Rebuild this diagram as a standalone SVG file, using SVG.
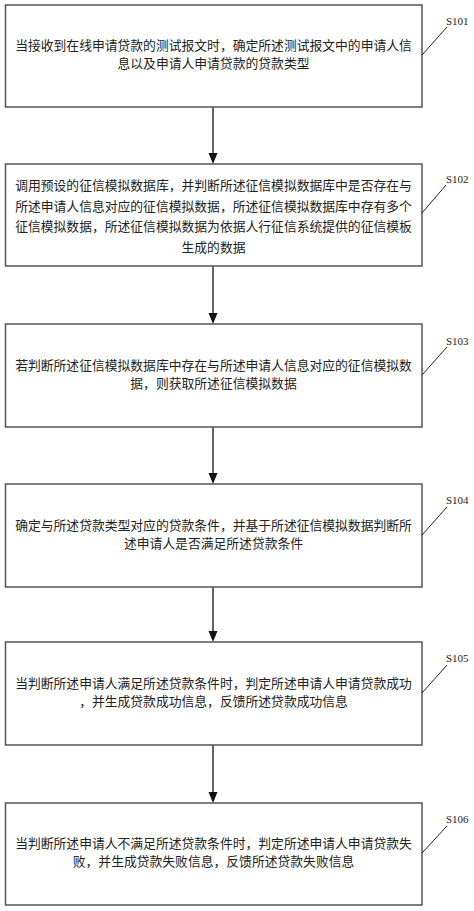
<svg xmlns="http://www.w3.org/2000/svg" width="474" height="911" viewBox="0 0 474 911">
<defs>
<style>
.box{fill:#fff;stroke:#555;stroke-width:1.5}
.t{font-family:"Noto Sans CJK SC","Noto Sans CJK JP",sans-serif;font-size:12.8px;fill:#222;text-anchor:middle}
.lbl{font-family:"Liberation Serif",serif;font-size:11px;fill:#222}
.lead{stroke:#222;stroke-width:1;fill:none}
.arr{stroke:#111;stroke-width:1.3;fill:none}
.head{fill:#111}
</style>
</defs>
<rect width="474" height="911" fill="#fff"/>
<g id="connectors">
<line class="arr" x1="213" y1="107" x2="213" y2="154"/>
<polygon class="head" points="208.5,153 217.5,153 213,164"/>
<line class="arr" x1="213" y1="266" x2="213" y2="314"/>
<polygon class="head" points="208.5,313 217.5,313 213,324"/>
<line class="arr" x1="213" y1="427" x2="213" y2="474"/>
<polygon class="head" points="208.5,473 217.5,473 213,484"/>
<line class="arr" x1="213" y1="587" x2="213" y2="632"/>
<polygon class="head" points="208.5,631 217.5,631 213,642"/>
<line class="arr" x1="213" y1="745" x2="213" y2="793"/>
<polygon class="head" points="208.5,792 217.5,792 213,803"/>
</g>
<g id="S101">
<rect class="box" x="5.5" y="5" width="416.5" height="102"/>
<text class="t" x="213.5" y="50">当接收到在线申请贷款的测试报文时，确定所述测试报文中的申请人信</text>
<text class="t" x="213.5" y="68">息以及申请人申请贷款的贷款类型</text>
<line class="lead" x1="422" y1="55" x2="447" y2="27"/>
<text class="lbl" x="446" y="25">S101</text>
</g>
<g id="S102">
<rect class="box" x="5.5" y="164" width="416.5" height="102"/>
<text class="t" x="213.5" y="190">调用预设的征信模拟数据库，并判断所述征信模拟数据库中是否存在与</text>
<text class="t" x="213.5" y="210.5">所述申请人信息对应的征信模拟数据，所述征信模拟数据库中存有多个</text>
<text class="t" x="213.5" y="231">征信模拟数据，所述征信模拟数据为依据人行征信系统提供的征信模板</text>
<text class="t" x="213.5" y="252">生成的数据</text>
<line class="lead" x1="422" y1="213" x2="446" y2="185"/>
<text class="lbl" x="446" y="183">S102</text>
</g>
<g id="S103">
<rect class="box" x="5.5" y="324" width="416.5" height="103"/>
<text class="t" x="213.5" y="370">若判断所述征信模拟数据库中存在与所述申请人信息对应的征信模拟数</text>
<text class="t" x="213.5" y="388">据，则获取所述征信模拟数据</text>
<line class="lead" x1="422" y1="375" x2="447" y2="347"/>
<text class="lbl" x="446" y="345">S103</text>
</g>
<g id="S104">
<rect class="box" x="5.5" y="484" width="416.5" height="103"/>
<text class="t" x="213.5" y="530">确定与所述贷款类型对应的贷款条件，并基于所述征信模拟数据判断所</text>
<text class="t" x="213.5" y="548">述申请人是否满足所述贷款条件</text>
<line class="lead" x1="422" y1="535" x2="447" y2="507"/>
<text class="lbl" x="446" y="504">S104</text>
</g>
<g id="S105">
<rect class="box" x="5.5" y="642" width="416.5" height="103"/>
<text class="t" x="213.5" y="688">当判断所述申请人满足所述贷款条件时，判定所述申请人申请贷款成功</text>
<text class="t" x="213.5" y="706">，并生成贷款成功信息，反馈所述贷款成功信息</text>
<line class="lead" x1="422" y1="693" x2="447" y2="665"/>
<text class="lbl" x="446" y="662">S105</text>
</g>
<g id="S106">
<rect class="box" x="5.5" y="803" width="416.5" height="102"/>
<text class="t" x="213.5" y="848">当判断所述申请人不满足所述贷款条件时，判定所述申请人申请贷款失</text>
<text class="t" x="213.5" y="866">败，并生成贷款失败信息，反馈所述贷款失败信息</text>
<line class="lead" x1="422" y1="853" x2="447" y2="826"/>
<text class="lbl" x="446" y="823">S106</text>
</g>
</svg>
